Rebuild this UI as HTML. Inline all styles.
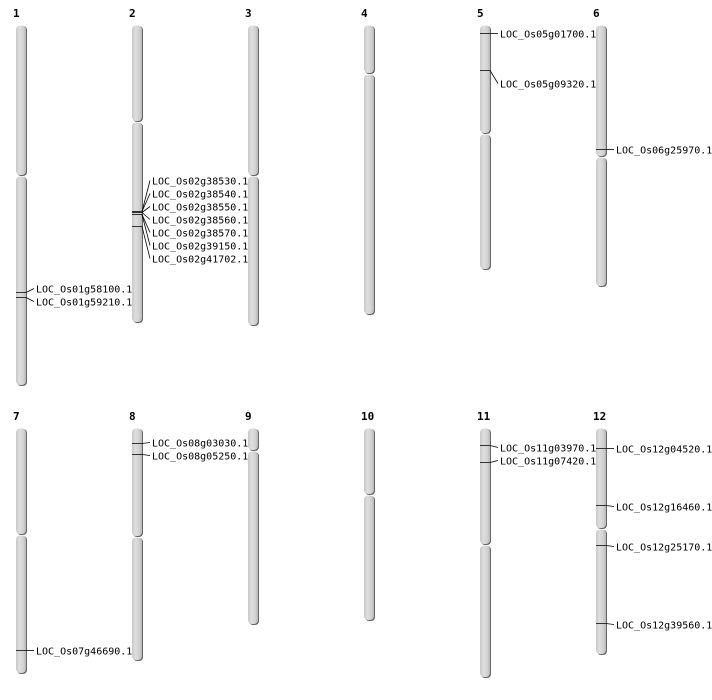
<!DOCTYPE html>
<html><head><meta charset="utf-8"><style>
html,body{margin:0;padding:0;background:#fff;}
svg{display:block;}
text{font-family:"DejaVu Sans Mono","Liberation Mono",monospace;font-size:10px;fill:#000;}
.n{font-family:"DejaVu Sans Mono","Liberation Mono",monospace;font-weight:bold;font-size:11px;}
</style></head><body>
<svg width="712" height="700" xmlns="http://www.w3.org/2000/svg">
<defs>
<linearGradient id="g" x1="0" x2="1" y1="0" y2="0">
<stop offset="0" stop-color="#c8c8c8"/><stop offset="0.35" stop-color="#dedede"/><stop offset="0.75" stop-color="#d0d0d0"/><stop offset="1" stop-color="#b8b8b8"/>
</linearGradient>
</defs>
<g id="chroms"></g>
<g stroke="#000" stroke-width="1" fill="none" id="lines"></g>
<g id="labels"></g>
<script>
var C=[[16,25,[[25,176],[176,386]],"1"],[132,25,[[25,122],[122,323]],"2"],[248,25,[[25,176],[176,326]],"3"],[364,25,[[25,74],[74,315]],"4"],[480,25,[[25,134],[134,270]],"5"],[596,25,[[25,157],[157,287]],"6"],
[16,428,[[428,535],[535,674]],"7"],[132,428,[[428,537],[537,661]],"8"],[248,428,[[428,451],[451,625]],"9"],[364,428,[[428,495],[495,621]],"10"],[480,428,[[428,545],[545,678]],"11"],[596,428,[[428,529],[529,655]],"12"]];
var ns="http://www.w3.org/2000/svg",ch=document.getElementById("chroms"),ln=document.getElementById("lines"),lb=document.getElementById("labels");
function el(p,t,a,txt){var e=document.createElementNS(ns,t);for(var k in a)e.setAttribute(k,a[k]);if(txt)e.textContent=txt;p.appendChild(e);}
C.forEach(function(c){var x=c[0];
el(lb,"text",{x:x-3,y:c[1]-8,"class":"n"},c[3]);
c[2].forEach(function(s){el(ch,"rect",{x:x+1,y:s[0]+1,width:10,height:s[1]-s[0]-1,rx:4,fill:"#666"});
el(ch,"rect",{x:x,y:s[0]+0.5,width:10,height:s[1]-s[0]-1.5,rx:4,fill:"url(#g)"});});});
var M=[[16,292,289,"LOC_Os01g58100.1"],[16,297,302,"LOC_Os01g59210.1"],
[132,211,181,"LOC_Os02g38530.1"],[132,211,194,"LOC_Os02g38540.1"],[132,212,207,"LOC_Os02g38550.1"],[132,212,220,"LOC_Os02g38560.1"],[132,214,233,"LOC_Os02g38570.1"],[132,214,246,"LOC_Os02g39150.1"],[132,226,259,"LOC_Os02g41702.1"],
[480,33,34,"LOC_Os05g01700.1"],[480,70,84,"LOC_Os05g09320.1"],[596,149,150,"LOC_Os06g25970.1"],
[16,650,651,"LOC_Os07g46690.1"],[132,443,443,"LOC_Os08g03030.1"],[132,454,456,"LOC_Os08g05250.1"],
[480,445,448,"LOC_Os11g03970.1"],[480,462,461,"LOC_Os11g07420.1"],
[596,448,449,"LOC_Os12g04520.1"],[596,505,507,"LOC_Os12g16460.1"],[596,545,547,"LOC_Os12g25170.1"],[596,623,625,"LOC_Os12g39560.1"]];
M.forEach(function(m){var x=m[0];
el(ln,"line",{x1:x,y1:m[1]+0.5,x2:x+10,y2:m[1]+0.5,stroke:"#333"});
el(ln,"line",{x1:x+10,y1:m[1]+0.5,x2:x+18,y2:m[2]-0.5,"stroke-width":0.8});
el(lb,"text",{x:x+20,y:m[2]+3.5},m[3]);});
</script>
</svg>
</body></html>
